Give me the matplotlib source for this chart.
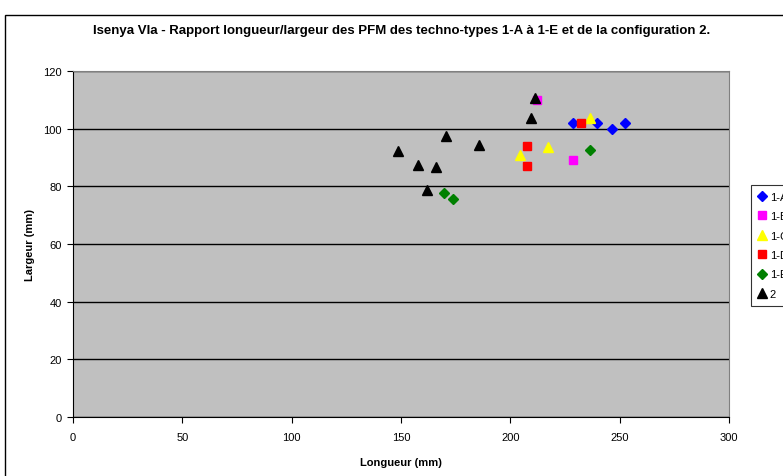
import matplotlib.pyplot as plt
from matplotlib.patches import Rectangle

plt.rcParams['font.family'] = ['Liberation Sans', 'DejaVu Sans']

# longueur / largeur des PFM par techno-type
a_x = [228.6, 239.6, 246.5, 252.4]
a_y = [101.9, 101.9, 99.9, 101.9]
b_x = [212.2, 228.5]
b_y = [110.1, 89.0]
c_x = [236.4, 217.2, 204.5]
c_y = [103.6, 93.6, 90.9]
d_x = [232.1, 207.4, 207.4]
d_y = [102.1, 93.9, 87.0]
e_x = [236.4, 169.5, 173.6]
e_y = [92.6, 77.8, 75.7]
cfg2_x = [211.2, 209.4, 170.4, 148.5, 185.5, 157.6, 165.8, 161.7]
cfg2_y = [110.6, 103.6, 97.6, 92.4, 94.4, 87.5, 86.6, 78.7]

fig = plt.figure(figsize=(7.83, 4.77), dpi=100)
# cadre extérieur du graphique
fig.patches.append(Rectangle((5 / 783, -0.1), 1.2, 1.1 - 16 / 477, transform=fig.transFigure,
                             fill=False, edgecolor='black', linewidth=1.0))

ax = fig.add_axes([73 / 783, 1 - 418 / 477, 656 / 783, 346 / 477])
ax.set_facecolor('#C0C0C0')

ax.plot(a_x, a_y, 'D', color='#0000FF', markersize=5, label='1-A', zorder=3)
ax.plot(b_x, b_y, 's', color='#FF00FF', markersize=6, label='1-B', zorder=3)
ax.plot(c_x, c_y, '^', color='#FFFF00', markersize=7, label='1-C', zorder=3)
ax.plot(d_x, d_y, 's', color='#FF0000', markersize=6, label='1-D', zorder=3)
ax.plot(e_x, e_y, 'D', color='#008000', markersize=5, label='1-E', zorder=3)
ax.plot(cfg2_x, cfg2_y, '^', color='black', markersize=7, label='2', zorder=4)

ax.set_xlim(0, 300)
ax.set_ylim(0, 120)
ax.set_xticks(range(0, 301, 50))
ax.set_yticks(range(0, 121, 20))
ax.yaxis.grid(True, color='black', linewidth=1.0)
ax.set_axisbelow(True)
ax.tick_params(direction='out', length=4.5, labelsize=8, color='black')
ax.tick_params(axis='x', pad=6)
ax.tick_params(axis='y', pad=3.5)
for side in ['top', 'right']:
    ax.spines[side].set_color('#808080')
for side in ['left', 'bottom']:
    ax.spines[side].set_color('black')

ax.set_xlabel('Longueur (mm)', fontsize=8, fontweight='bold', labelpad=11)
ax.set_ylabel('Largeur (mm)', fontsize=8, fontweight='bold', labelpad=6)
fig.text(402 / 783, 1 - 31 / 477,
         'Isenya VIa - Rapport longueur/largeur des PFM des techno-types 1-A à 1-E et de la configuration 2.',
         ha='center', va='center', fontsize=9.5, fontweight='bold')

leg = ax.legend(loc='upper left', bbox_to_anchor=(751 / 783, 1 - 186 / 477),
                bbox_transform=fig.transFigure, fontsize=8, frameon=True, fancybox=False,
                handlelength=0.8, handletextpad=0.3, borderpad=0.6, labelspacing=0.85,
                borderaxespad=0)
leg.get_frame().set_edgecolor('black')
leg.get_frame().set_linewidth(0.8)

fig.savefig('out.png', dpi=100)
